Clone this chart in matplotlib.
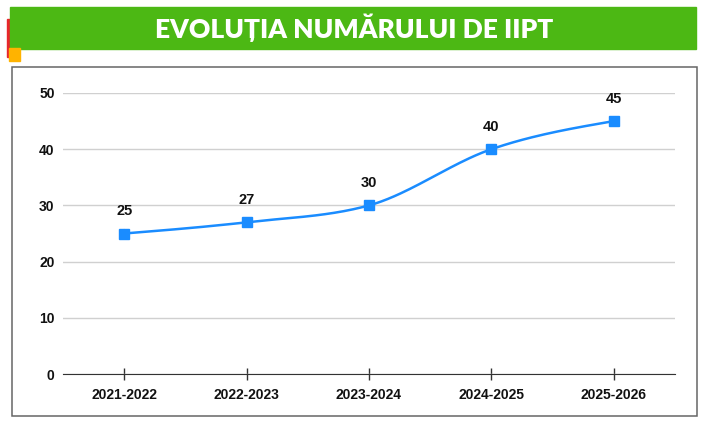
import numpy as np
import matplotlib.pyplot as plt
from matplotlib.patches import Rectangle

# date
ani = ["2021-2022", "2022-2023", "2023-2024", "2024-2025", "2025-2026"]
numar_iipt = [25, 27, 30, 40, 45]
y_ticks = [0, 10, 20, 30, 40, 50]

albastru = "#1a8cff"
verde = "#4cb814"


# curba monotona (ca d3.curveMonotoneX)
def monoton(x, y, n=40):
    x = np.asarray(x, float)
    y = np.asarray(y, float)
    h = np.diff(x)
    s = np.diff(y) / h
    m = np.zeros_like(y)
    for i in range(1, len(y) - 1):
        if s[i - 1] * s[i] <= 0:
            m[i] = 0
        else:
            p = (s[i - 1] * h[i] + s[i] * h[i - 1]) / (h[i - 1] + h[i])
            m[i] = (np.sign(s[i - 1]) + np.sign(s[i])) * min(abs(s[i - 1]), abs(s[i]), 0.5 * abs(p))
    m[0] = (3 * s[0] - m[1]) / 2 if len(y) > 2 else s[0]
    m[-1] = (3 * s[-1] - m[-2]) / 2 if len(y) > 2 else s[-1]
    xs, ys = [], []
    for i in range(len(x) - 1):
        t = np.linspace(0, 1, n)
        h00 = 2 * t**3 - 3 * t**2 + 1
        h10 = t**3 - 2 * t**2 + t
        h01 = -2 * t**3 + 3 * t**2
        h11 = t**3 - t**2
        xs.extend(x[i] + t * h[i])
        ys.extend(h00 * y[i] + h10 * h[i] * m[i] + h01 * y[i + 1] + h11 * h[i] * m[i + 1])
    return np.array(xs), np.array(ys)


fig = plt.figure(figsize=(7.01, 4.26), dpi=100)
W, H = 701, 426

# banner titlu
fig.patches.append(Rectangle((7 / W, 1 - 57 / H), 3 / W, 38 / H, transform=fig.transFigure,
                             color="#e8262b", zorder=1))
fig.patches.append(Rectangle((10 / W, 1 - 49 / H), 686 / W, 42 / H, transform=fig.transFigure,
                             color=verde, zorder=2))
fig.patches.append(Rectangle((9 / W, 1 - 61 / H), 11 / W, 13 / H, transform=fig.transFigure,
                             color="#ffb300", zorder=3))
fig.text(354 / W, 1 - 28 / H, "EVOLUȚIA NUMĂRULUI DE IIPT", color="white", fontsize=19,
         fontweight="heavy", family="Lato", ha="center", va="center", zorder=4)

# chenar grafic
fig.patches.append(Rectangle((12 / W, 1 - 416 / H), 685 / W, 349 / H, transform=fig.transFigure,
                             facecolor="none", edgecolor="#666666", linewidth=1.1, zorder=-1))

ax = fig.add_axes([63 / W, 52 / H, 612 / W, 281 / H])
ax.set_zorder(5)
ax.patch.set_alpha(0)

x = np.arange(len(ani))
cx, cy = monoton(x, numar_iipt)
ax.plot(cx, cy, color=albastru, linewidth=1.8, zorder=3)
ax.plot(x, numar_iipt, "s", color=albastru, markersize=7.5, zorder=4)

for xi, v in zip(x, numar_iipt):
    ax.annotate(str(v), (xi, v), xytext=(0, 16), textcoords="offset points", ha="center",
                va="center", fontsize=10.5, fontweight="bold", family="Liberation Sans",
                color="#111111",
                arrowprops=dict(arrowstyle="-", color="#e0e0e0", lw=1, shrinkA=6, shrinkB=4))

ax.set_xlim(-0.5, len(ani) - 0.5)
ax.set_ylim(0, 50)
ax.set_yticks(y_ticks)
ax.set_xticks(x)
ax.set_xticklabels(ani)
ax.grid(axis="y", color="#d0d0d0", linewidth=1)
ax.set_axisbelow(True)
for sp in ["top", "right", "left"]:
    ax.spines[sp].set_visible(False)
ax.spines["bottom"].set_color("#333333")
ax.spines["bottom"].set_zorder(2)
ax.tick_params(axis="y", length=0, pad=6)
ax.tick_params(axis="x", direction="inout", length=8, width=1, color="#333333", pad=6)
for lbl in ax.get_xticklabels() + ax.get_yticklabels():
    lbl.set_fontweight("bold")
    lbl.set_fontsize(10)
    lbl.set_family("Liberation Sans")
    lbl.set_color("#111111")

fig.savefig("out.png", dpi=100)
